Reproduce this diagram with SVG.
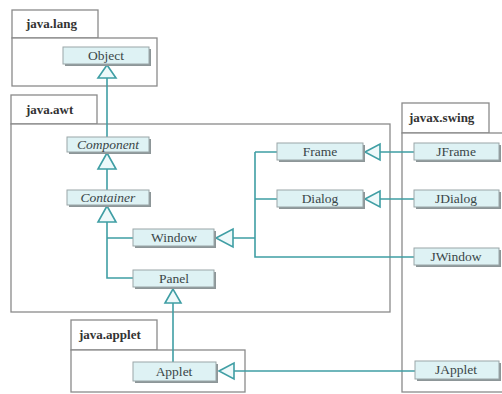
<svg xmlns="http://www.w3.org/2000/svg" width="502" height="394" viewBox="0 0 502 394">
<style>
.pkg{fill:#fff;stroke:#8a8a8a;stroke-width:1.3}
.pl{font-family:"Liberation Serif","DejaVu Serif",serif;font-size:13px;font-weight:bold;fill:#333}
.node rect.b{fill:#def2f4;stroke:#9aa6a8;stroke-width:1}
.node rect.s{fill:#8d9698}
.nt{font-family:"Liberation Serif","DejaVu Serif",serif;font-size:13.5px;fill:#3a4648;text-anchor:middle}
.it{font-style:italic}
.c{fill:none;stroke:#3f9ea4;stroke-width:1.6}
.tri{fill:#eef9fa;stroke:#3f9ea4;stroke-width:1.6}
</style>
<rect width="502" height="394" fill="#fff"/>
<g id="pkg-lang"><rect class="pkg" x="12" y="10" width="86" height="28"/><rect class="pkg" x="12" y="38" width="145" height="48"/><text class="pl" x="26" y="28">java.lang</text></g>
<g id="pkg-awt"><rect class="pkg" x="11" y="95" width="86" height="29"/><rect class="pkg" x="11" y="124" width="379" height="188"/><text class="pl" x="26" y="114">java.awt</text></g>
<g id="pkg-swing"><rect class="pkg" x="402" y="103" width="87" height="30"/><rect class="pkg" x="402" y="133" width="101" height="259"/><text class="pl" x="409" y="122">javax.swing</text></g>
<g id="pkg-applet"><rect class="pkg" x="71" y="320" width="86" height="30"/><rect class="pkg" x="71" y="350" width="174" height="42"/><text class="pl" x="79" y="339">java.applet</text></g>
<g id="connectors">
<path class="c" d="M107 78V137"/>
<path class="c" d="M107 169V190"/>
<path class="c" d="M107 222V278H133M107 238H133"/>
<path class="c" d="M233 238H255M255 152V257H414M255 152H277M255 199H277"/>
<path class="c" d="M380 152H414M380 199H414"/>
<path class="c" d="M173 303V362"/>
<path class="c" d="M234 371H415"/>
<polygon class="tri" points="107,65 98,78 116,78"/>
<polygon class="tri" points="107,153 98,169 116,169"/>
<polygon class="tri" points="107,206 98,222 116,222"/>
<polygon class="tri" points="216,238 233,229 233,247"/>
<polygon class="tri" points="365,152 380,144 380,160"/>
<polygon class="tri" points="365,199 380,191 380,207"/>
<polygon class="tri" points="173,289 165,303 181,303"/>
<polygon class="tri" points="219,371 234,363 234,379"/>
</g>
<g id="Object" class="node"><rect class="s" x="65" y="49" width="86" height="17"/><rect class="b" x="63" y="47" width="86" height="17"/><text class="nt" x="106" y="60">Object</text></g>
<g id="Component" class="node"><rect class="s" x="69" y="139" width="82" height="15"/><rect class="b" x="67" y="137" width="82" height="15"/><text class="nt it" x="108" y="149">Component</text></g>
<g id="Container" class="node"><rect class="s" x="69" y="192" width="82" height="15"/><rect class="b" x="67" y="190" width="82" height="15"/><text class="nt it" x="108" y="202">Container</text></g>
<g id="Window" class="node"><rect class="s" x="135" y="231" width="81" height="17"/><rect class="b" x="133" y="229" width="81" height="17"/><text class="nt" x="174" y="242">Window</text></g>
<g id="Panel" class="node"><rect class="s" x="135" y="272" width="81" height="17"/><rect class="b" x="133" y="270" width="81" height="17"/><text class="nt" x="174" y="283">Panel</text></g>
<g id="Frame" class="node"><rect class="s" x="279" y="145" width="86" height="17"/><rect class="b" x="277" y="143" width="86" height="17"/><text class="nt" x="320" y="156">Frame</text></g>
<g id="Dialog" class="node"><rect class="s" x="279" y="192" width="86" height="17"/><rect class="b" x="277" y="190" width="86" height="17"/><text class="nt" x="320" y="203">Dialog</text></g>
<g id="JFrame" class="node"><rect class="s" x="416" y="145" width="85" height="17"/><rect class="b" x="414" y="143" width="85" height="17"/><text class="nt" x="456" y="156">JFrame</text></g>
<g id="JDialog" class="node"><rect class="s" x="416" y="192" width="85" height="17"/><rect class="b" x="414" y="190" width="85" height="17"/><text class="nt" x="456" y="203">JDialog</text></g>
<g id="JWindow" class="node"><rect class="s" x="416" y="250" width="85" height="17"/><rect class="b" x="414" y="248" width="85" height="17"/><text class="nt" x="456" y="261">JWindow</text></g>
<g id="Applet" class="node"><rect class="s" x="135" y="364" width="83" height="19"/><rect class="b" x="133" y="362" width="83" height="19"/><text class="nt" x="174" y="376">Applet</text></g>
<g id="JApplet" class="node"><rect class="s" x="417" y="363" width="84" height="18"/><rect class="b" x="415" y="361" width="84" height="18"/><text class="nt" x="456" y="374">JApplet</text></g>
</svg>
